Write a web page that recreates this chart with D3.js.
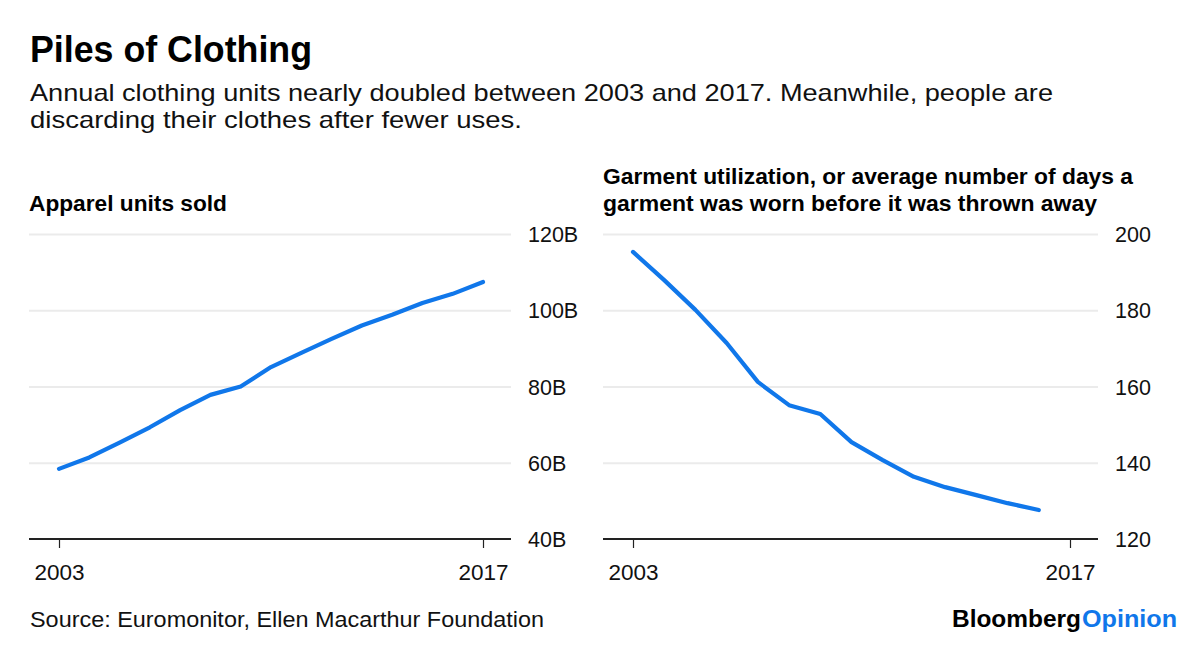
<!DOCTYPE html>
<html>
<head>
<meta charset="utf-8">
<script src="https://cdn.jsdelivr.net/npm/d3@7"></script>
<style>
  html, body { margin: 0; padding: 0; background: #fff; }
  svg { display: block; font-family: "Liberation Sans", Arial, Helvetica, sans-serif; }
</style>
</head>
<body>
<svg id="chart" width="1200" height="647"></svg>
<script>
// ---- data ----
const unitYears = [2003, 2004, 2005, 2006, 2007, 2008, 2009, 2010, 2011, 2012, 2013, 2014, 2015, 2016, 2017];
const unitsSold = [58.4, 61.4, 65.3, 69.3, 73.8, 77.8, 80.0, 85.1, 88.8, 92.5, 96.0, 98.8, 101.9, 104.3, 107.4]; // billions
const utilYears = [2003, 2004, 2005, 2006, 2007, 2008, 2009, 2010, 2011, 2012, 2013, 2014, 2015, 2016];
const utilDays = [195.3, 187.9, 180.1, 171.4, 161.2, 155.1, 152.8, 145.4, 140.7, 136.3, 133.6, 131.5, 129.4, 127.6];
const unitTicks = [40, 60, 80, 100, 120];
const unitTickLabels = ["40B", "60B", "80B", "100B", "120B"];
const utilTicks = [120, 140, 160, 180, 200];
const utilTickLabels = ["120", "140", "160", "180", "200"];
const xTicks = [2003, 2017];

const title = "Piles of Clothing";
const subtitle = ["Annual clothing units nearly doubled between 2003 and 2017. Meanwhile, people are",
                  "discarding their clothes after fewer uses."];
const leftLabel = ["Apparel units sold"];
const rightLabel = ["Garment utilization, or average number of days a",
                    "garment was worn before it was thrown away"];
const source = "Source: Euromonitor, Ellen Macarthur Foundation";

const BLUE = "#1077ea";
const svg = d3.select("#chart");

function txt(s, x, y, size, weight, fill, len) {
  const t = svg.append("text").attr("x", x).attr("y", y)
    .attr("font-size", size).attr("font-weight", weight).attr("fill", fill).text(s);
  if (len) t.attr("textLength", len).attr("lengthAdjust", "spacingAndGlyphs");
  return t;
}

// headings
txt(title, 30, 62, 36.5, "bold", "#000", 282);
txt(subtitle[0], 30, 101, 24, "normal", "#111", 1023);
txt(subtitle[1], 30, 128, 24, "normal", "#111", 492);
txt(leftLabel[0], 29, 211, 22, "bold", "#000", 198);
txt(rightLabel[0], 603, 184, 22, "bold", "#000", 530);
txt(rightLabel[1], 603, 211, 22, "bold", "#000", 494);
txt(source, 30, 627, 21.5, "normal", "#111", 514);
txt("Bloomberg", 952, 627, 23, "bold", "#000", 129);
txt("Opinion", 1082, 627, 23, "bold", BLUE, 95);

function panel(opts) {
  const x = d3.scaleLinear().domain([2003, 2017]).range([opts.x0, opts.x1]);
  const y = d3.scaleLinear().domain(opts.yDomain).range([539, 234]);
  const g = svg.append("g");

  // gridlines (non-baseline)
  const yAxis = d3.axisRight(y).tickValues(opts.yTicks)
    .tickSize(opts.gridR - opts.gridL)
    .tickFormat((d, i) => opts.yLabels[i]);
  const ga = g.append("g").attr("transform", `translate(${opts.gridL},0)`).call(yAxis);
  ga.select(".domain").remove();
  ga.selectAll(".tick line")
    .attr("stroke", d => d === opts.yDomain[0] ? "none" : "#ebebeb")
    .attr("stroke-width", 2);
  ga.selectAll(".tick text")
    .attr("x", opts.labelX - opts.gridL)
    .attr("dy", "0.35em")
    .attr("font-size", 21.5)
    .attr("font-family", "'Liberation Sans', Arial, Helvetica, sans-serif")
    .attr("fill", "#111")
    .attr("text-anchor", "start");

  // x axis
  const xAxis = d3.axisBottom(x).tickValues(xTicks).tickSize(9).tickFormat(d3.format("d"));
  const gx = g.append("g").attr("transform", `translate(0,${y(opts.yDomain[0])})`).call(xAxis);
  gx.select(".domain").remove();
  gx.selectAll(".tick line").attr("stroke", "#222").attr("stroke-width", 1.2);
  gx.selectAll(".tick text")
    .attr("y", 41)
    .attr("dy", 0)
    .attr("font-size", 22.5)
    .attr("font-family", "'Liberation Sans', Arial, Helvetica, sans-serif")
    .attr("fill", "#111");
  g.append("line")
    .attr("x1", opts.gridL).attr("x2", opts.gridR)
    .attr("y1", y(opts.yDomain[0])).attr("y2", y(opts.yDomain[0]))
    .attr("stroke", "#222").attr("stroke-width", 2);

  // line
  const line = d3.line().x((d, i) => x(opts.years[i])).y(d => y(d));
  g.append("path").datum(opts.values)
    .attr("d", line)
    .attr("fill", "none")
    .attr("stroke", BLUE)
    .attr("stroke-width", 4.2)
    .attr("stroke-linejoin", "round")
    .attr("stroke-linecap", "round");
}

panel({ x0: 59, x1: 483, gridL: 29, gridR: 511, labelX: 528,
        yDomain: [40, 120], yTicks: unitTicks, yLabels: unitTickLabels,
        years: unitYears, values: unitsSold });
panel({ x0: 633, x1: 1070, gridL: 603, gridR: 1098, labelX: 1115,
        yDomain: [120, 200], yTicks: utilTicks, yLabels: utilTickLabels,
        years: utilYears, values: utilDays });
</script>
</body>
</html>
